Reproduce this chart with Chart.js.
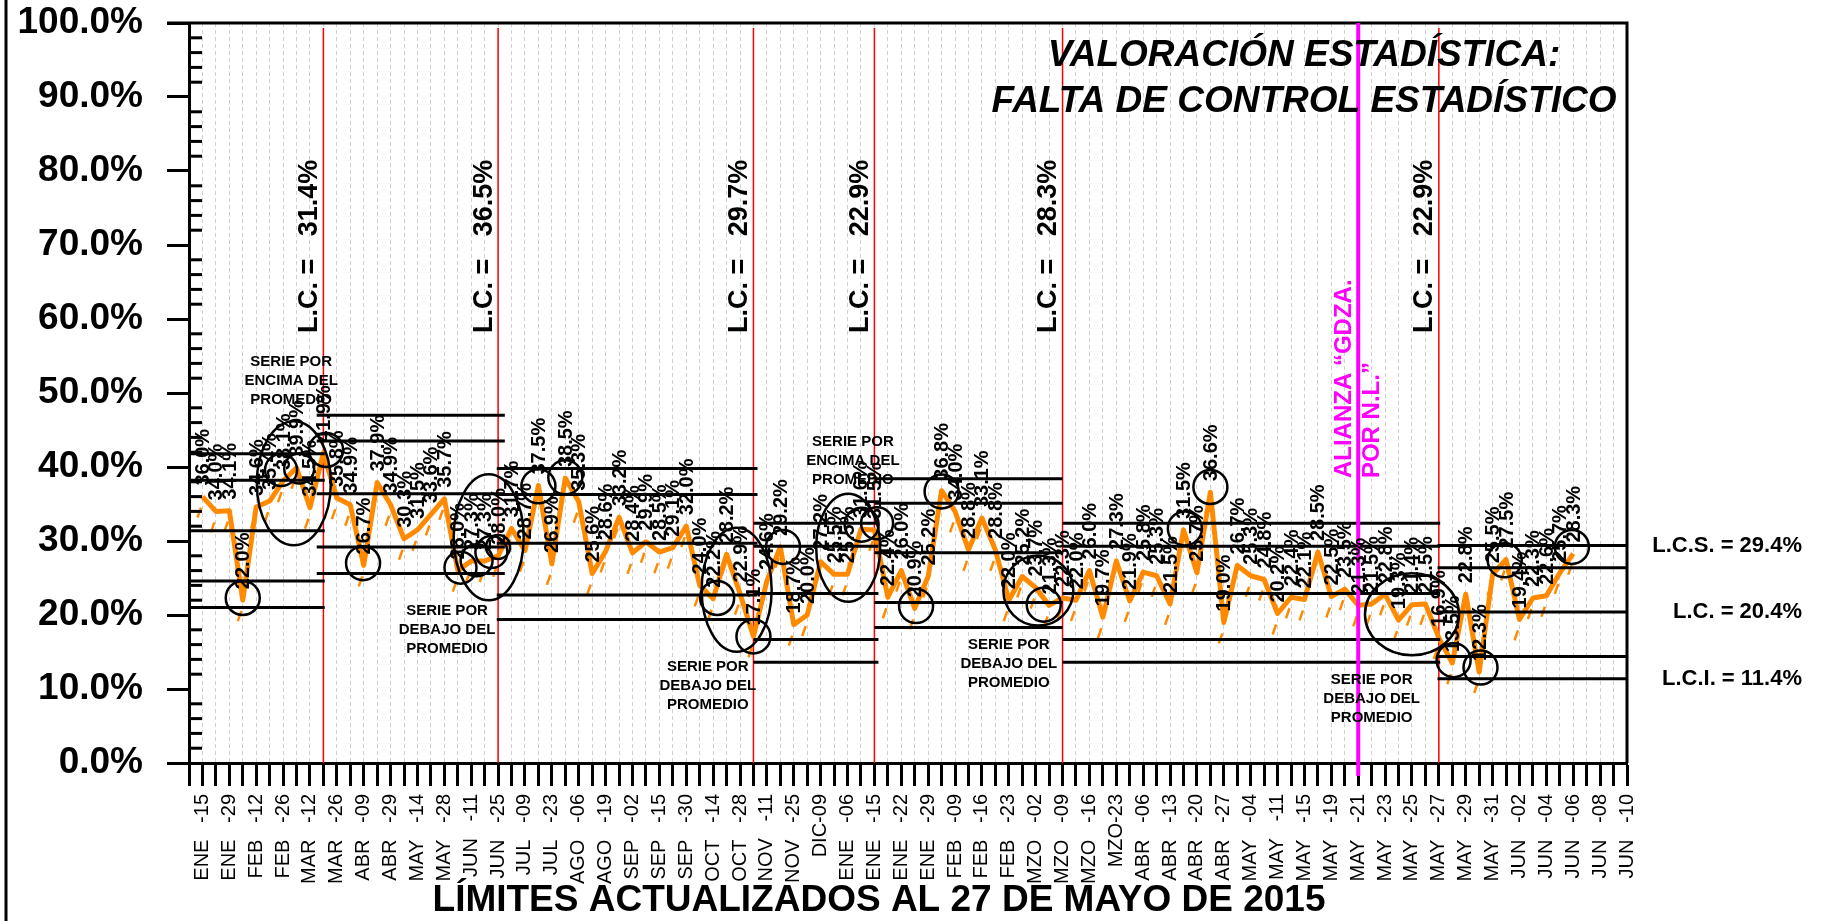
<!DOCTYPE html>
<html>
<head>
<meta charset="utf-8">
<title>Valoración estadística</title>
<script src="https://cdn.jsdelivr.net/npm/chart.js@4.4.1/dist/chart.umd.min.js"></script>
<style>
  html, body { margin: 0; padding: 0; background: #fff; }
  #wrap { width: 1835px; height: 921px; }
</style>
</head>
<body>
<div id="wrap"><canvas id="grafica" width="1835" height="921"></canvas></div>
<script>
// fechas del eje X (una etiqueta cada dos posiciones, empezando en la posición 1)
const fechas = ['ENE -15','ENE -29','FEB -12','FEB -26','MAR -12','MAR -26','ABR -09','ABR -29','MAY -14','MAY -28',
  'JUN -11','JUN -25','JUL -09','JUL -23','AGO -06','AGO -19','SEP -02','SEP -15','SEP -30','OCT -14','OCT -28',
  'NOV -11','NOV -25','DIC-09','ENE -06','ENE -15','ENE -22','ENE -29','FEB -09','FEB -16','FEB -23','MZO -02',
  'MZO -09','MZO -16','MZO-23','ABR -06','ABR -13','ABR -20','ABR -27','MAY -04','MAY -11','MAY -15','MAY -19',
  'MAY -21','MAY -23','MAY -25','MAY -27','MAY -29','MAY -31','JUN -02','JUN -04','JUN -06','JUN -08','JUN -10'];

// serie (posición 1 en adelante)
const valores = [36.0, 34.0, 34.1, 22.0, 34.6, 35.4, 38.1, 39.9, 34.5, 41.9,
  35.8, 34.9, 26.7, 37.9, 34.9, 30.3, 31.5, 33.6, 35.7, 26.0,
  27.3, 27.3, 28.0, 31.7, 28.7, 37.5, 26.9, 38.5, 35.3, 25.6,
  28.6, 33.2, 28.4, 29.9, 28.5, 29.1, 32.0, 24.0, 22.2, 28.2,
  22.9, 17.1, 24.6, 29.2, 18.7, 20.0, 27.2, 25.5, 25.5, 31.6,
  31.5, 22.4, 26.0, 20.9, 25.2, 36.8, 34.0, 28.8, 33.1, 28.8,
  22.0, 25.2, 23.7, 21.3, 22.3, 22.0, 26.0, 19.7, 27.3, 21.9,
  25.8, 25.3, 21.5, 31.5, 25.7, 36.6, 19.0, 26.7, 25.3, 24.8,
  20.2, 22.4, 22.1, 28.5, 22.5, 23.5, 21.3, 21.5, 22.8, 19.3,
  21.4, 21.5, 16.9, 13.5, 22.8, 12.3, 25.5, 27.5, 19.4, 22.3,
  22.6, 25.7, 28.3];

// límites por tramo
const inicioTramo = [0, 9.5, 22.9, 42, 51, 65, 92.9];
const finTramo = [10.1, 23.5, 42.3, 51.3, 65, 93.1, 107];
const lcs = [41.8, 47.0, 39.8, 32.4, 38.4, 32.4, 29.4];
const sup2 = [38.2, 43.5, 36.3, 29.3, 35.1, 29.3, 26.4];
const lc = [31.4, 36.4, 29.7, 22.9, 28.4, 22.9, 20.4];
const inf2 = [24.6, 29.2, 22.7, 16.7, 21.7, 16.7, 14.4];
const lci = [21.0, 25.6, 19.4, 13.6, 18.3, 13.6, 11.4];

// cortes (líneas rojas) y su L.C.
const cortes = [10, 23, 42, 51, 65, 93];
const lcCorte = ['31.4%', '36.5%', '29.7%', '22.9%', '28.3%', '22.9%'];
const alianza = 87;

// círculos: [posición, valor, radio x, radio y]
const circulos = [
  [4, 22.3, 17, 17], [7.8, 37.8, 37, 62], [6.85, 39.6, 16, 16], [8.2, 39.8, 15, 15], [10.2, 42.3, 17, 17],
  [12.95, 27.0, 17, 17], [20.2, 26.4, 16, 16], [21.4, 27.4, 16, 16], [22.5, 28.5, 16, 16], [23.0, 29.2, 12, 12],
  [22.3, 30.5, 35, 63], [26.0, 37.4, 17, 17], [28.0, 38.6, 17, 17], [40.75, 23.4, 35, 62], [39.3, 22.3, 17, 17],
  [42.0, 17.1, 17, 17], [44.2, 29.2, 17, 17], [49.05, 29.1, 32, 54], [50.05, 32.2, 17, 17], [51.2, 32.4, 16, 16],
  [54.1, 21.2, 17, 17], [56.0, 36.7, 17, 17], [63.2, 23.3, 35, 35], [63.6, 21.4, 17, 17], [74.1, 31.7, 17, 17],
  [76.0, 37.3, 17, 17], [91.0, 20.1, 47, 41], [94.1, 13.9, 17, 17], [96.1, 12.9, 17, 17], [97.9, 27.4, 17, 17],
  [102.9, 29.2, 17, 17]
];

// notas: [posición, valor de la primera línea, tipo]
const notas = [[7.6, 54.2, 'ENCIMA'], [19.2, 20.6, 'DEBAJO'], [38.6, 13.0, 'DEBAJO'],
  [49.4, 43.4, 'ENCIMA'], [61.0, 15.9, 'DEBAJO'], [88.0, 11.2, 'DEBAJO']];

const FUENTE = 'Arial, "Liberation Sans", sans-serif';
const NARANJA = '#ff8a00';

const datasets = [{
  data: valores.map((v, i) => ({x: i + 1, y: v})),
  borderColor: NARANJA,
  borderWidth: 5,
  borderJoinStyle: 'round',
  pointRadius: 0,
  tension: 0,
  order: 1
}];
[lcs, sup2, lc, inf2, lci].forEach(lim => {
  lim.forEach((v, t) => {
    datasets.push({
      data: [{x: inicioTramo[t], y: v}, {x: finTramo[t], y: v}],
      borderColor: '#000',
      borderWidth: 3,
      pointRadius: 0,
      order: 0
    });
  });
});

function textoVertical(ctx, txt, x, y, align) {
  ctx.save();
  ctx.translate(x, y);
  ctx.rotate(-Math.PI / 2);
  ctx.textAlign = align || 'left';
  ctx.textBaseline = 'middle';
  ctx.fillText(txt, 0, 0);
  ctx.restore();
}

const anotaciones = {
  id: 'anotaciones',
  beforeDatasetsDraw(chart) {
    const {ctx, chartArea: a, scales: {x}} = chart;
    ctx.save();
    ctx.strokeStyle = '#ff0000';
    ctx.lineWidth = 1.5;
    cortes.forEach(c => {
      const px = x.getPixelForValue(c);
      ctx.beginPath();
      ctx.moveTo(px, a.top + 5);
      ctx.lineTo(px, a.bottom);
      ctx.stroke();
    });
    // sombra de la serie
    const meta = chart.getDatasetMeta(0);
    ctx.strokeStyle = NARANJA;
    ctx.lineWidth = 2.5;
    meta.data.forEach(p => {
      ctx.beginPath();
      ctx.moveTo(p.x - 5, p.y + 21);
      ctx.lineTo(p.x - 1.5, p.y + 11);
      ctx.stroke();
    });
    ctx.restore();
  },
  afterDatasetsDraw(chart) {
    const {ctx, chartArea: a, scales: {x, y}} = chart;
    ctx.save();

    // marco
    ctx.strokeStyle = '#000';
    ctx.lineWidth = 3;
    ctx.beginPath();
    ctx.moveTo(a.left - 22, a.top);
    ctx.lineTo(a.right, a.top);
    ctx.lineTo(a.right, a.bottom);
    ctx.moveTo(6, 0);
    ctx.lineTo(6, chart.height);
    ctx.stroke();
    // marcas menores del eje Y
    for (let v = 2; v < 100; v += 2) {
      if (v % 10 === 0) continue;
      const py = y.getPixelForValue(v);
      ctx.beginPath();
      ctx.moveTo(a.left, py);
      ctx.lineTo(a.left + 13, py);
      ctx.stroke();
    }

    // alianza
    const pxA = x.getPixelForValue(alianza);
    ctx.strokeStyle = '#ff00ff';
    ctx.lineWidth = 4;
    ctx.beginPath();
    ctx.moveTo(pxA, a.top);
    ctx.lineTo(pxA, a.bottom + 13);
    ctx.stroke();
    ctx.fillStyle = '#ff00ff';
    ctx.font = 'bold 24px ' + FUENTE;
    textoVertical(ctx, 'ALIANZA \u201CGDZA.', pxA - 14, y.getPixelForValue(38.5));
    textoVertical(ctx, 'POR N.L.\u201D', pxA + 14, y.getPixelForValue(38.5));

    // etiquetas de datos
    const meta = chart.getDatasetMeta(0);
    ctx.fillStyle = '#000';
    ctx.font = 'bold 20px ' + FUENTE;
    meta.data.forEach((p, i) => {
      textoVertical(ctx, valores[i].toFixed(1) + '%', p.x + 1, p.y - 11);
    });

    // círculos
    ctx.strokeStyle = '#000';
    ctx.lineWidth = 2.5;
    circulos.forEach(c => {
      ctx.beginPath();
      ctx.ellipse(x.getPixelForValue(c[0]), y.getPixelForValue(c[1]), c[2], c[3], 0, 0, Math.PI * 2);
      ctx.stroke();
    });

    // notas
    ctx.font = 'bold 15px ' + FUENTE;
    ctx.textAlign = 'center';
    ctx.textBaseline = 'middle';
    notas.forEach(n => {
      const px = x.getPixelForValue(n[0]);
      const py = y.getPixelForValue(n[1]);
      ['SERIE POR', n[2] + ' DEL', 'PROMEDIO'].forEach((t, k) => ctx.fillText(t, px, py + k * 19));
    });

    // L.C. de cada tramo
    ctx.font = 'bold 27px ' + FUENTE;
    cortes.forEach((c, k) => {
      textoVertical(ctx, 'L.C. =   ' + lcCorte[k], x.getPixelForValue(c) - 14, y.getPixelForValue(58.1));
    });

    // límites vigentes
    ctx.font = 'bold 22px ' + FUENTE;
    ctx.textAlign = 'right';
    ctx.textBaseline = 'middle';
    const ult = lcs.length - 1;
    ctx.fillText('L.C.S. = ' + lcs[ult].toFixed(1) + '%', 1802, y.getPixelForValue(lcs[ult]));
    ctx.fillText('L.C. = ' + lc[ult].toFixed(1) + '%', 1802, y.getPixelForValue(lc[ult]));
    ctx.fillText('L.C.I. = ' + lci[ult].toFixed(1) + '%', 1802, y.getPixelForValue(lci[ult]));

    // títulos
    ctx.textAlign = 'center';
    ctx.font = 'italic bold 37px ' + FUENTE;
    ctx.fillText('VALORACIÓN ESTADÍSTICA:', 1304, 56);
    ctx.fillText('FALTA DE CONTROL ESTADÍSTICO', 1304, 102);
    ctx.font = 'bold 37px ' + FUENTE;
    ctx.fillText('LÍMITES ACTUALIZADOS AL 27 DE MAYO DE 2015', 879, 901);
    ctx.restore();
  }
};

new Chart(document.getElementById('grafica'), {
  type: 'line',
  data: { datasets: datasets },
  plugins: [anotaciones],
  options: {
    responsive: false,
    animation: false,
    devicePixelRatio: 1,
    layout: { padding: { top: 23, right: 208, left: 0, bottom: 0 } },
    plugins: { legend: { display: false }, tooltip: { enabled: false } },
    scales: {
      x: {
        type: 'linear',
        min: 0,
        max: 107,
        afterFit: s => { s.height = 158; s.paddingLeft = 0; s.paddingRight = 0; },
        ticks: {
          stepSize: 1,
          autoSkip: false,
          maxTicksLimit: 200,
          minRotation: 90,
          maxRotation: 90,
          padding: 8,
          color: '#000',
          font: { family: FUENTE, size: 20 },
          callback: v => (v % 2 === 1 ? fechas[(v - 1) / 2].replace(' -', '   -') : '')
        },
        grid: { color: '#d0d0d0', lineWidth: 1, tickColor: '#000', tickWidth: 3, tickLength: 23 },
        border: { color: '#000', width: 3, dash: [4, 3] }
      },
      y: {
        min: 0,
        max: 100,
        afterFit: s => { s.width = 189; s.paddingTop = 0; s.paddingBottom = 0; },
        ticks: {
          stepSize: 10,
          padding: 24,
          color: '#000',
          font: { family: FUENTE, size: 37, weight: 'bold' },
          callback: v => v.toFixed(1) + '%'
        },
        grid: { drawOnChartArea: false, tickColor: '#000', tickWidth: 3, tickLength: 22 },
        border: { color: '#000', width: 3 }
      }
    }
  }
});
</script>
</body>
</html>
